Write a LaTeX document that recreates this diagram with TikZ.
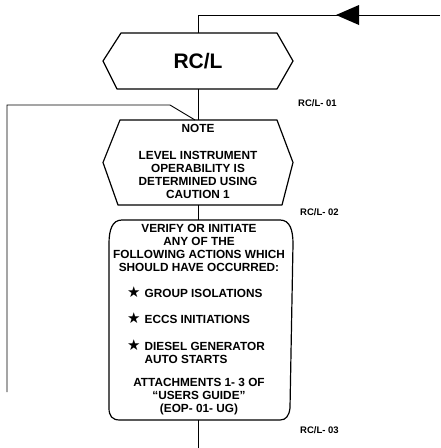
\documentclass[tikz,border=0pt]{standalone}
\usepackage{fontspec}
\setmainfont{Liberation Sans}
\newfontfamily\starfont{DejaVu Sans}
\usetikzlibrary{calc}
\begin{document}
\begin{tikzpicture}[x=1pt,y=-1pt,
  shapeline/.style={line width=1.2pt, line join=round},
  conn/.style={line width=0.9pt},
  txt/.style={font=\bfseries\fontsize{11.8}{13}\selectfont, inner sep=0pt, align=center},
  big/.style={font=\bfseries\fontsize{21}{24}\selectfont, inner sep=0pt},
  tag/.style={font=\bfseries\fontsize{9.5}{10}\selectfont, inner sep=0pt, anchor=west},
  frame/.style={inner sep=0pt, outer sep=0pt}
]
\newcommand{\mystarmark}{{\starfont\fontsize{15}{12}\selectfont ★}}
\useasboundingbox[fill=white] (0,0) rectangle (440,448);

% --- shape frames (named nodes) ---
\node[frame, big, minimum width=190pt, minimum height=56pt] (rcl) at (198,61) {RC/L};
\node[frame, minimum width=190pt, minimum height=85pt] (note) at (198,162.5) {};
\node[frame, minimum width=184pt, minimum height=200pt] (act) at (201,320) {};

% --- outlines ---
\draw[shapeline] (rcl.west) -- ($(rcl.north west)+(18,0)$) -- ($(rcl.north east)+(-16,0)$)
  -- (rcl.east) -- ($(rcl.south east)+(-16,0)$) -- ($(rcl.south west)+(14,0)$) -- cycle;
\draw[shapeline] (note.west) -- ($(note.north west)+(17,0)$) -- ($(note.north east)+(-16,0)$)
  -- (note.east) -- ($(note.south east)+(-11,0)$) -- ($(note.south west)+(15,0)$) -- cycle;
\draw[shapeline] (122,220) -- (280,220) .. controls (290,220) and (293,230) .. (293,244)
  -- (290,408) .. controls (289,416) and (286,420) .. (280,420)
  -- (120,420) .. controls (112,420) and (109,416) .. (109,408)
  -- (109,244) .. controls (109,230) and (112,220) .. (122,220) -- cycle;

% --- texts ---
\node[txt] (notehead) at (198,128) {NOTE};
\node[txt] (notebody) at (198,174.5) {LEVEL INSTRUMENT\\OPERABILITY IS\\DETERMINED USING\\CAUTION 1};
\node[txt] (verify) at (199,247.5) {VERIFY OR INITIATE\\ANY OF THE\\FOLLOWING ACTIONS WHICH\\SHOULD HAVE OCCURRED:};
\node[txt, anchor=west] (i1) at (127,292) {\mystarmark\hspace{4pt}GROUP ISOLATIONS};
\node[txt, anchor=west] (i2) at (127,318) {\mystarmark\hspace{4pt}ECCS INITIATIONS};
\node[txt, anchor=north west, align=left] (i3) at (127,339) {\mystarmark\hspace{4pt}DIESEL GENERATOR\\\phantom{\mystarmark}\hspace{4pt}AUTO STARTS};
\node[txt] (attach) at (199,397) {ATTACHMENTS 1- 3 OF\\``USERS GUIDE''\\(EOP- 01- UG)};

\node[tag] (t1) at (298,103) {RC/L- 01};
\node[tag] (t2) at (300,212) {RC/L- 02};
\node[tag] (t3) at (300,430) {RC/L- 03};

% --- connectors ---
\coordinate (inlet) at (440,15);
\coordinate (tip) at (336,15);
\coordinate (exit) at (198,448);
\coordinate (fb1) at (170,105);
\coordinate (fb2) at (7,105);
\coordinate (fbend) at (7,392);
\draw[conn] (inlet) -- (rcl.north |- inlet) -- (rcl.north);
\fill (tip) -- ($(tip)+(23,-10)$) -- ($(tip)+(23,10)$) -- cycle;
\draw[conn] (rcl.south) -- (note.north);
\draw[conn] ($(note.north)+(-3,0)$) -- (fb1) -- (fb2) -- (fbend);
\draw[conn] (note.south) -- (note.south |- act.north);
\draw[conn] (act.south -| exit) -- (exit);
\end{tikzpicture}
\end{document}
